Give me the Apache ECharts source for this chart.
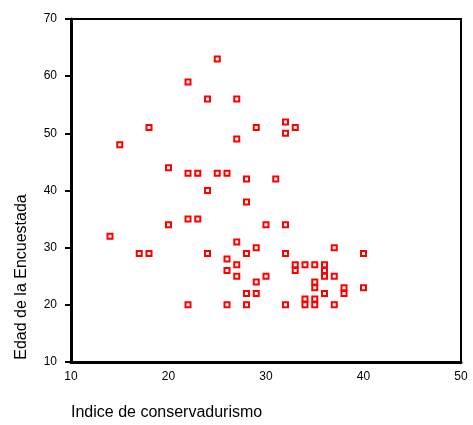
<!DOCTYPE html>
<html>
<head>
<meta charset="utf-8">
<script src="https://cdn.jsdelivr.net/npm/echarts@6/dist/echarts.min.js"></script>
<style>
  html, body { margin: 0; padding: 0; background: #fff; }
  #chart { width: 473px; height: 425px; }
</style>
</head>
<body>
<div id="chart"></div>
<script>
// Indice de conservadurismo (x) vs Edad de la Encuestada (y)
const conservadurismo = [25, 22, 24, 27, 18, 29, 27, 15, 20, 22, 23, 25, 26, 28, 32, 33, 32, 31,
  24, 28, 22, 23, 20, 30, 14, 27, 29, 17, 18, 24, 28, 26, 27, 26, 27, 30, 29, 28, 29, 22, 26, 28,
  32, 37, 32, 40, 33, 33, 34, 35, 36, 36, 36, 37, 35, 35, 38, 40, 36, 38, 34, 35, 32, 34, 35, 37];
const edad = [63, 59, 56, 56, 51, 51, 49, 48, 44, 43, 43, 43, 43, 42, 52, 51, 50, 42,
  40, 38, 35, 35, 34, 34, 32, 31, 30, 29, 29, 29, 29, 28, 27, 26, 25, 25, 24, 22, 22, 20, 20, 20,
  34, 30, 29, 29, 27, 26, 27, 27, 27, 26, 25, 25, 24, 23, 23, 23, 22, 22, 21, 21, 20, 20, 20, 20];
const xTicks = [10, 20, 30, 40, 50];
const yTicks = [10, 20, 30, 40, 50, 60, 70];

const points = conservadurismo.map((x, i) => [x, edad[i]]);

const chart = echarts.init(document.getElementById('chart'));
const font = 'Arial, "Liberation Sans", sans-serif';

chart.setOption({
  animation: false,
  backgroundColor: '#fff',
  grid: { left: 71, right: 12, top: 19, bottom: 63, show: true, borderColor: '#000', borderWidth: 2 },
  xAxis: {
    type: 'value',
    min: xTicks[0], max: xTicks[xTicks.length - 1], interval: 10,
    axisLine: { show: true, lineStyle: { color: '#000', width: 3 } },
    axisTick: { show: false },
    axisLabel: { color: '#000', fontSize: 12, fontFamily: font, margin: 9 },
    splitLine: { show: false }
  },
  yAxis: {
    type: 'value',
    min: yTicks[0], max: yTicks[yTicks.length - 1], interval: 10,
    axisLine: { show: true, lineStyle: { color: '#000', width: 3 } },
    axisTick: { show: true, length: 6, lineStyle: { color: '#000', width: 2 } },
    axisLabel: { color: '#000', fontSize: 12, fontFamily: font, margin: 14 },
    splitLine: { show: false }
  },
  graphic: [
    {
      type: 'text', left: 71, top: 405,
      style: { text: 'Indice de conservadurismo', fill: '#000', font: '16px ' + font }
    },
    {
      type: 'text', x: 22, y: 277, rotation: Math.PI / 2,
      style: { text: 'Edad de la Encuestada', fill: '#000', font: '16px ' + font,
        align: 'center', verticalAlign: 'middle' }
    }
  ],
  series: [{
    type: 'scatter',
    data: points,
    symbol: 'rect',
    symbolSize: 5,
    itemStyle: { color: '#fff', borderColor: '#ff0000', borderWidth: 2, opacity: 1 }
  }]
});
</script>
</body>
</html>
